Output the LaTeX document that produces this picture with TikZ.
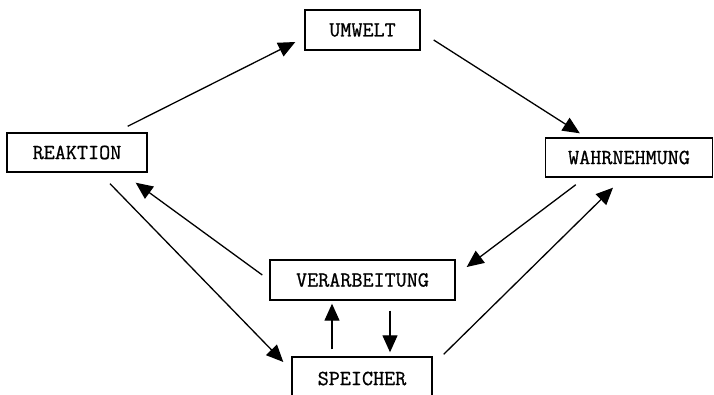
\documentclass[tikz,border=0pt]{standalone}
\usepackage{fontspec}
\newfontfamily\boxfont{Latin Modern Mono}[FakeBold=0.9]
\usetikzlibrary{arrows.meta,calc}
\tikzset{
  box/.style={draw=black, line width=1.4pt, rectangle, inner sep=0pt,
    font=\boxfont\fontsize{21.5}{23}\selectfont, text=black},
  conn/.style={line width=1.3pt, -{Triangle[length=17pt,width=15pt]}}
}
\begin{document}
\begin{tikzpicture}[x=1pt,y=-1pt]
\useasboundingbox (0,0) rectangle (714,395);
\clip (0,0) rectangle (714,395);
\fill[white] (0,0) rectangle (714,395);
\node[box, minimum width=115pt, minimum height=40pt] (umw) at (362.5,30) {UMWELT};
\node[box, minimum width=140pt, minimum height=39pt] (reak) at (77,152.5) {REAKTION};
\node[box, minimum width=167pt, minimum height=39pt] (wahr) at (629,157.5) {WAHRNEHMUNG};
\node[box, minimum width=185pt, minimum height=40pt] (ver) at (362.5,280) {VERARBEITUNG};
\node[box, minimum width=140pt, minimum height=43pt] (spe) at (362,378.5) {SPEICHER};
\draw[conn] ($(reak.north east)+(-20,-6)$) -- ($(umw.west)+(-9,12)$);
\draw[conn] ($(umw.east)+(13,10)$) -- ($(wahr.north west)+(35,-4)$);
\draw[conn] ($(wahr.south west)+(31,7)$) -- ($(ver.east)+(11,-13)$);
\draw[conn] ($(spe.north east)+(11,-2)$) -- ($(wahr.south)+(-16,10)$);
\draw[conn] ($(ver.west)+(-7,-5)$) -- ($(reak.south east)+(-12,10)$);
\draw[conn] ($(reak.south)+(33,11)$) -- ($(spe.west)+(-8,-16.5)$);
\draw[conn] ($(spe.north)+(-30,-7)$) -- ($(ver.south)+(-30.5,3)$);
\draw[conn] ($(ver.south)+(27.5,10)$) -- ($(spe.north)+(28,-4)$);
\end{tikzpicture}
\end{document}
